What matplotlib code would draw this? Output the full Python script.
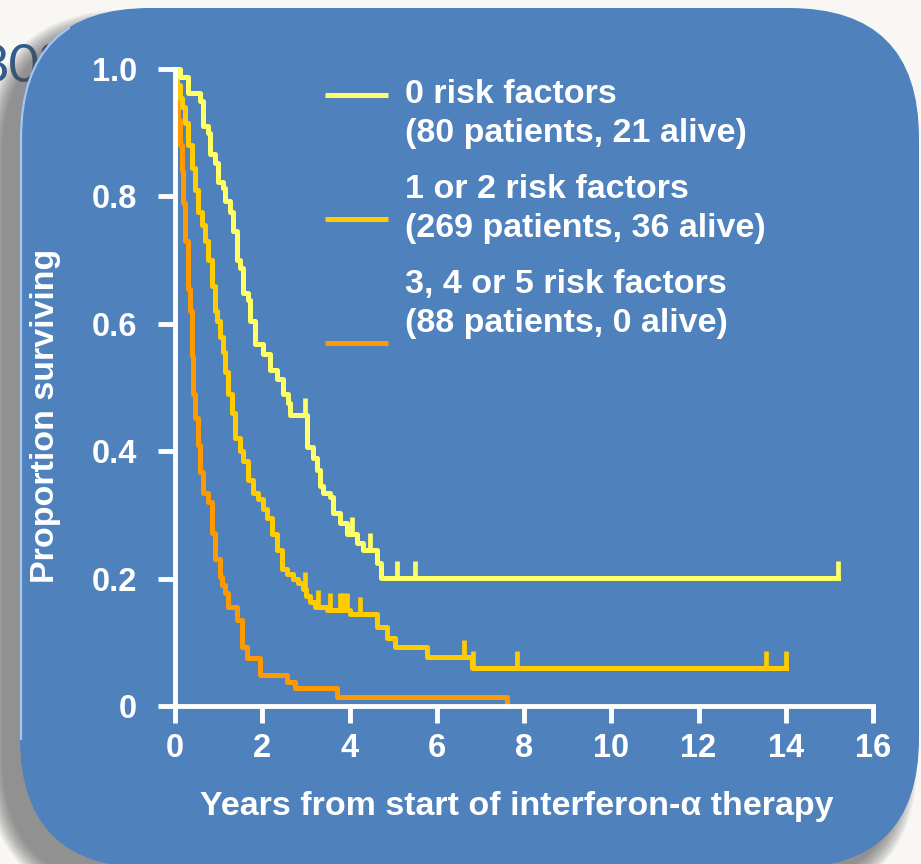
import numpy as np
import matplotlib
matplotlib.use("Agg")
import matplotlib.pyplot as plt
from matplotlib.patches import FancyBboxPatch, Rectangle
from matplotlib.path import Path

# Kaplan-Meier steps: time (years) where survival changes, and the value after it
yellow_t = [0, 0.11, 0.30, 0.57, 0.64, 0.76, 0.80, 0.92, 0.99, 1.10, 1.15, 1.27, 1.33,
            1.42, 1.49, 1.56, 1.67, 1.72, 1.83, 2.02, 2.18, 2.34, 2.48, 2.59, 2.64, 3.03,
            3.17, 3.26, 3.33, 3.39, 3.56, 3.62, 3.78, 3.94, 4.17, 4.31, 4.63, 4.72]
yellow_s = [1.000, 0.988, 0.963, 0.950, 0.910, 0.900, 0.866, 0.853, 0.822, 0.813, 0.792,
            0.775, 0.745, 0.700, 0.688, 0.648, 0.638, 0.604, 0.568, 0.553, 0.528, 0.513,
            0.490, 0.475, 0.457, 0.406, 0.390, 0.370, 0.345, 0.335, 0.328, 0.303, 0.287,
            0.270, 0.256, 0.245, 0.225, 0.201]
yellow_censor = [2.98, 4.05, 4.48, 5.10, 5.50, 15.2]
yellow_end = 15.2

gold_t = [0, 0.05, 0.11, 0.16, 0.23, 0.30, 0.39, 0.46, 0.53, 0.62, 0.69, 0.76, 0.85, 0.92,
          0.97, 1.03, 1.10, 1.15, 1.22, 1.31, 1.38, 1.49, 1.56, 1.67, 1.79, 1.90, 2.02,
          2.11, 2.22, 2.34, 2.45, 2.57, 2.71, 2.82, 2.94, 3.00, 3.10, 3.21, 3.49, 4.01,
          4.63, 4.86, 5.05, 5.78, 6.81]
gold_s = [1.000, 0.975, 0.955, 0.940, 0.915, 0.880, 0.845, 0.810, 0.775, 0.755, 0.730,
          0.700, 0.660, 0.620, 0.605, 0.580, 0.555, 0.525, 0.490, 0.460, 0.420, 0.400,
          0.385, 0.355, 0.335, 0.325, 0.310, 0.295, 0.270, 0.245, 0.215, 0.208, 0.200,
          0.193, 0.183, 0.172, 0.163, 0.155, 0.150, 0.145, 0.124, 0.107, 0.093, 0.077,
          0.060]
gold_censor = [2.98, 3.28, 3.56, 3.78, 3.85, 3.94, 4.24, 6.63, 6.83, 7.84, 13.55, 14.0]
gold_end = 14.0

orange_t = [0, 0.04, 0.07, 0.11, 0.16, 0.18, 0.23, 0.30, 0.34, 0.39, 0.41, 0.46, 0.53,
            0.57, 0.64, 0.76, 0.85, 0.92, 1.03, 1.08, 1.15, 1.22, 1.42, 1.54, 1.65, 1.95,
            2.57, 2.75, 3.72, 7.60]
orange_s = [1.000, 0.960, 0.920, 0.880, 0.840, 0.790, 0.730, 0.655, 0.620, 0.550, 0.490,
            0.452, 0.410, 0.368, 0.334, 0.320, 0.272, 0.230, 0.203, 0.190, 0.177, 0.155,
            0.135, 0.093, 0.075, 0.049, 0.038, 0.028, 0.014, 0.000]
orange_censor = []
orange_end = 7.60

labels = ["0 risk factors\n(80 patients, 21 alive)",
          "1 or 2 risk factors\n(269 patients, 36 alive)",
          "3, 4 or 5 risk factors\n(88 patients, 0 alive)"]
colors = ["#FFFF66", "#FFCC00", "#FF9900"]

x_ticks = [0, 2, 4, 6, 8, 10, 12, 14, 16]
y_ticks = [0, 0.2, 0.4, 0.6, 0.8, 1.0]
y_ticklabels = ["0", "0.2", "0.4", "0.6", "0.8", "1.0"]

W, H = 921, 864
BOX_BLUE = "#4F81BD"
FONT = "Liberation Sans"

fig = plt.figure(figsize=(W / 100, H / 100), dpi=100, facecolor="#F8F7F4")

# overlay layer in pixel units
bg = fig.add_axes([0, 0, 1, 1])
bg.axis("off")
bg.set_xlim(0, W)
bg.set_ylim(H, 0)

bg.text(-21, 82, "80%", fontsize=38, color="#2F5D8E", family="Lato",
        va="baseline", ha="left", zorder=0)

box_x0, box_y0, box_x1, box_y1, radius = 20, 8, 919, 868, 130

# soft shadow: stacked translucent copies of the panel, growing outward
for grow in np.arange(0, 36, 3):
    sh = FancyBboxPatch((box_x0 - 18 - grow / 2, box_y0 + 18 - grow / 2),
                        box_x1 - box_x0 + grow, box_y1 - box_y0 + grow,
                        boxstyle="round,pad=0,rounding_size=%d" % (radius + grow / 2),
                        fc="#505050", ec="none", alpha=0.07, zorder=1)
    bg.add_patch(sh)

panel = FancyBboxPatch((box_x0, box_y0), box_x1 - box_x0, box_y1 - box_y0,
                       boxstyle="round,pad=0,rounding_size=%d" % radius,
                       fc=BOX_BLUE, ec="none", zorder=2)
bg.add_patch(panel)
rim = FancyBboxPatch((box_x0 + 1, box_y0), box_x1 - box_x0, box_y1 - box_y0,
                     boxstyle="round,pad=0,rounding_size=%d" % radius,
                     fill=False, ec="#A4C6F0", lw=1.6, zorder=3)
bg.add_patch(rim)
rim.set_clip_path(Rectangle((0, 0), 70, 740, transform=bg.transData))

# legend drawn by hand on the panel
legend_rows = [95, 219, 343]
text_rows = [114, 209, 304]
for lab, col, ly, ty in zip(labels, colors, legend_rows, text_rows):
    bg.plot([325, 388], [ly, ly], color=col, lw=3.6, solid_capstyle="butt", zorder=5)
    bg.text(405, ty, lab, color="white", fontsize=24.5, family=FONT, weight="bold",
            va="center", ha="left", linespacing=1.36, zorder=5)

# survival plot
ax = fig.add_axes([175 / W, 1 - 706 / H, 698 / W, 637 / H])
ax.patch.set_alpha(0)

tick_marker = Path([(0, 0), (0, 1)])

series = [(orange_t, orange_s, orange_censor, orange_end, colors[2]),
          (gold_t, gold_s, gold_censor, gold_end, colors[1]),
          (yellow_t, yellow_s, yellow_censor, yellow_end, colors[0])]
for t, s, cens, end, col in series:
    t_draw = list(t) + [end]
    s_draw = list(s) + [s[-1]]
    ax.step(t_draw, s_draw, where="post", color=col, lw=3.6, clip_on=False, zorder=2)
    if cens:
        idx = np.searchsorted(t, cens, side="right") - 1
        ax.plot(cens, np.array(s)[idx], ls="none", marker=tick_marker, ms=24,
                mew=3.4, mec=col, clip_on=False, zorder=2)

ax.set_xlim(0, 16)
ax.set_ylim(0, 1)
ax.set_xticks(x_ticks)
ax.set_yticks(y_ticks)
ax.set_yticklabels(y_ticklabels)

for side in ["top", "right"]:
    ax.spines[side].set_visible(False)
for side in ["left", "bottom"]:
    ax.spines[side].set_color("white")
    ax.spines[side].set_linewidth(3.5)
    ax.spines[side].set_zorder(3)

ax.tick_params(axis="both", colors="white", width=3.5, length=12.5, direction="out",
               labelsize=23.5)
ax.tick_params(axis="y", pad=15)
ax.tick_params(axis="x", pad=7)
for lbl in ax.get_xticklabels() + ax.get_yticklabels():
    lbl.set_family(FONT)
    lbl.set_weight("bold")

ax.set_xlabel("Years from start of interferon-α therapy", fontsize=24.5, color="white",
              family=FONT, weight="bold")
ax.set_ylabel("Proportion surviving", fontsize=24.5, color="white", family=FONT,
              weight="bold")
ax.xaxis.label.set_va("center")
ax.yaxis.label.set_va("center")
ax.xaxis.set_label_coords(0.49, -0.157)
ax.yaxis.set_label_coords(-0.186, 0.455)

fig.savefig("out.png", dpi=100, facecolor=fig.get_facecolor())
